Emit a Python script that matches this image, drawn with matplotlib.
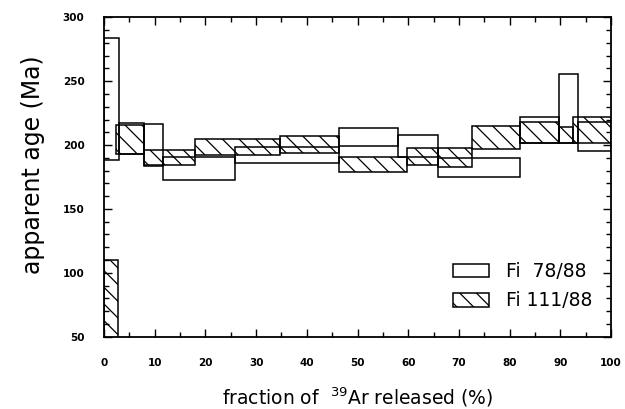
import matplotlib
matplotlib.use('Agg')

import matplotlib.pyplot as plt
from matplotlib.patches import Patch
import numpy as np

# step edges (% 39Ar released) and age ranges (Ma) for each sample
fi78_left = np.array([0.0, 3.0, 7.95, 11.7, 25.8, 46.4, 58.0, 65.9, 82.1, 89.7, 93.4])
fi78_right = np.array([3.0, 7.95, 11.7, 25.8, 46.4, 58.0, 65.9, 82.1, 89.7, 93.4, 100.0])
fi78_low = np.array([188, 193, 183.6, 172.6, 185.7, 199.3, 191, 175.3, 202, 202, 195])
fi78_high = np.array([284, 217, 216.4, 190.9, 198.5, 213.6, 207.9, 189.6, 221.7, 256, 218])

fi111_left = np.array([0.0, 2.3, 7.95, 17.9, 34.7, 46.3, 59.7, 65.9, 72.5, 82.1, 89.7, 92.6])
fi111_right = np.array([2.8, 7.95, 17.9, 34.7, 46.3, 59.7, 65.9, 72.5, 82.1, 89.7, 92.6, 100.0])
fi111_low = np.array([40, 193, 184.5, 192, 194, 179, 184.4, 183.1, 196.7, 201.4, 201.4, 201.4])
fi111_high = np.array([110, 216, 196, 204.5, 207, 191, 197.4, 197.4, 214.9, 218.3, 214.4, 222.2])

labels = ['Fi  78/88', 'Fi 111/88']

plt.rcParams['hatch.linewidth'] = 0.9
plt.rcParams['mathtext.default'] = 'regular'

fig = plt.figure(figsize=(6.25, 4.09), dpi=100)
ax = fig.add_axes([0.1664, 0.1768, 0.8112, 0.7809])

ax.bar(fi78_left, fi78_high - fi78_low, width=fi78_right - fi78_left,
       bottom=fi78_low, align='edge', fill=False, edgecolor='black', linewidth=1.1)
ax.bar(fi111_left, fi111_high - fi111_low, width=fi111_right - fi111_left,
       bottom=fi111_low, align='edge', facecolor='none', edgecolor='black',
       linewidth=1.1, hatch='\\\\')

ax.set_xlim(0, 100)
ax.set_ylim(50, 300)
ax.set_xticks(np.arange(0, 101, 10))
ax.set_xticks(np.arange(0, 101, 5), minor=True)
ax.set_yticks(np.arange(50, 301, 50))
ax.set_yticks(np.arange(50, 301, 10), minor=True)
ax.tick_params(which='both', direction='in', top=True, right=True, width=1.0)
ax.tick_params(which='major', length=6)
ax.tick_params(which='minor', length=3.5)
ax.tick_params(axis='x', which='major', pad=15)
ax.tick_params(axis='y', which='major', pad=14)
for lab in ax.get_xticklabels() + ax.get_yticklabels():
    lab.set_fontweight('bold')
    lab.set_fontsize(7.5)
for s in ax.spines.values():
    s.set_linewidth(1.3)

ax.set_ylabel('apparent age (Ma)', fontsize=17, va='center')
ax.yaxis.set_label_coords(-0.14, 0.54)
ax.set_xlabel(r'fraction of  $^{39}$Ar released (%)', fontsize=13.5, va='center')
ax.xaxis.set_label_coords(0.5, -0.189)

handles = [Patch(facecolor='none', edgecolor='black', linewidth=1.1),
           Patch(facecolor='none', edgecolor='black', linewidth=1.1, hatch='\\\\')]
ax.legend(handles, labels, loc='lower right', bbox_to_anchor=(0.997, 0.03),
          frameon=False, fontsize=13.5, handlelength=1.95, handleheight=0.75,
          handletextpad=0.9, labelspacing=0.55)

out_png = 'out.png'
plt.savefig(out_png, dpi=100)
